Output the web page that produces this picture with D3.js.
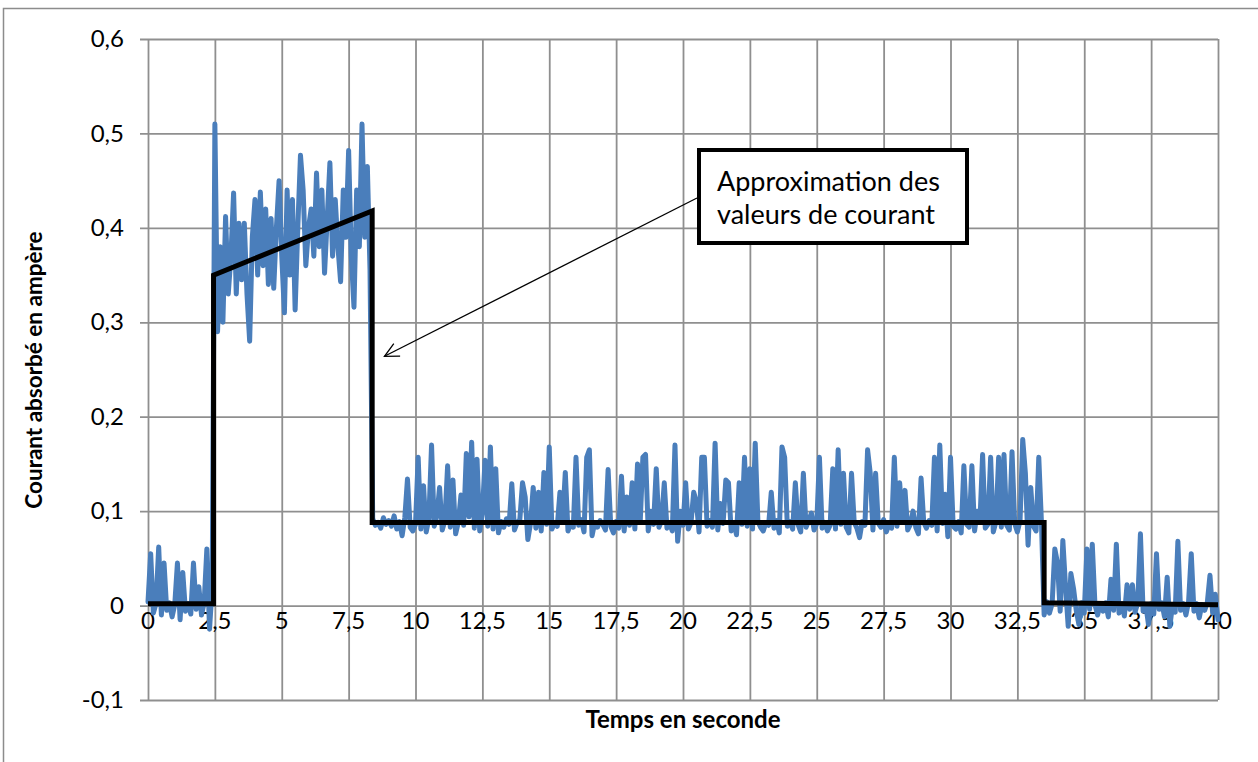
<!DOCTYPE html>
<html>
<head>
<meta charset="utf-8">
<script src="https://cdn.jsdelivr.net/npm/d3@7"></script>
<style>
  body { margin: 0; background: #fff; }
  text { font-family: Lato, "Noto Sans", sans-serif; }
</style>
</head>
<body>
<div id="chart"></div>
<script>

///////////////////////////////////////////////////////////////////////////
///////////////////////////////// Data ////////////////////////////////////
///////////////////////////////////////////////////////////////////////////

//Sampling step of the measured current (s)
var step = 0.1;

//Motor off, t = 0.0 .. 2.4 s
var idleStartT = 0;
var idleStart = [0.004, 0.055, -0.008, 0.002, 0.062, -0.010, 0.045, -0.005, 0.003, -0.012,
	0.001, 0.045, -0.015, 0.035, -0.006, 0.002, -0.009, 0.045, -0.004, 0.020,
	-0.010, 0.003, 0.060, -0.025, 0.020];

//Start-up, t = 2.5 .. 8.3 s
var startupT = 2.5;
var startup = [0.510, 0.290, 0.380, 0.300, 0.412, 0.330, 0.370, 0.437, 0.330, 0.405,
	0.345, 0.405, 0.330, 0.280, 0.390, 0.430, 0.350, 0.438, 0.360, 0.420,
	0.340, 0.410, 0.336, 0.400, 0.450, 0.370, 0.310, 0.440, 0.350, 0.430,
	0.313, 0.400, 0.477, 0.440, 0.360, 0.400, 0.420, 0.370, 0.458, 0.380,
	0.440, 0.352, 0.410, 0.469, 0.370, 0.430, 0.380, 0.343, 0.440, 0.390,
	0.482, 0.370, 0.316, 0.440, 0.380, 0.510, 0.390, 0.465, 0.355];

//Steady running, t = 8.4 .. 33.4 s
var runningT = 8.4;
var running = [0.092, 0.085, 0.088, 0.082, 0.093, 0.086,
	0.090, 0.084, 0.095, 0.081, 0.089, 0.074, 0.093, 0.134, 0.083, 0.079,
	0.086, 0.157, 0.081, 0.127, 0.078, 0.092, 0.170, 0.084, 0.095, 0.125,
	0.080, 0.090, 0.148, 0.083, 0.133, 0.076, 0.088, 0.117, 0.085, 0.161,
	0.094, 0.173, 0.082, 0.155, 0.079, 0.098, 0.154, 0.084, 0.168, 0.081,
	0.145, 0.077, 0.089, 0.083, 0.092, 0.086, 0.129, 0.080, 0.088, 0.091,
	0.130, 0.115, 0.070, 0.087, 0.125, 0.082, 0.120, 0.079, 0.141, 0.086,
	0.168, 0.081, 0.088, 0.084, 0.120, 0.090, 0.141, 0.079, 0.086, 0.083,
	0.157, 0.085, 0.091, 0.078, 0.157, 0.165, 0.074, 0.088, 0.083, 0.090,
	0.086, 0.080, 0.144, 0.084, 0.077, 0.089, 0.082, 0.137, 0.079, 0.115,
	0.085, 0.130, 0.081, 0.150, 0.088, 0.157, 0.160, 0.079, 0.100, 0.086,
	0.145, 0.083, 0.090, 0.130, 0.082, 0.087, 0.079, 0.170, 0.068, 0.100,
	0.085, 0.130, 0.081, 0.088, 0.120, 0.110, 0.078, 0.157, 0.157, 0.084,
	0.090, 0.083, 0.172, 0.080, 0.108, 0.087, 0.133, 0.130, 0.079, 0.088,
	0.075, 0.130, 0.086, 0.157, 0.084, 0.145, 0.081, 0.172, 0.089, 0.083,
	0.079, 0.088, 0.085, 0.120, 0.082, 0.090, 0.077, 0.168, 0.157, 0.084,
	0.089, 0.081, 0.130, 0.086, 0.078, 0.140, 0.083, 0.090, 0.098, 0.080,
	0.087, 0.157, 0.082, 0.088, 0.079, 0.085, 0.145, 0.081, 0.165, 0.086,
	0.140, 0.083, 0.077, 0.140, 0.088, 0.082, 0.072, 0.089, 0.085, 0.165,
	0.140, 0.080, 0.140, 0.087, 0.083, 0.091, 0.078, 0.086, 0.082, 0.157,
	0.084, 0.130, 0.089, 0.122, 0.080, 0.086, 0.100, 0.083, 0.076, 0.135,
	0.088, 0.082, 0.090, 0.085, 0.157, 0.079, 0.170, 0.087, 0.118, 0.073,
	0.157, 0.084, 0.081, 0.089, 0.077, 0.148, 0.086, 0.083, 0.148, 0.079,
	0.100, 0.088, 0.160, 0.082, 0.086, 0.157, 0.078, 0.089, 0.157, 0.083,
	0.160, 0.085, 0.080, 0.163, 0.087, 0.078, 0.090, 0.176, 0.140, 0.064,
	0.125, 0.084, 0.079, 0.157, 0.088];

//Motor off again, t = 33.5 .. 40.0 s
var idleEndT = 33.5;
var idleEnd = [-0.010, 0.004, -0.008, 0.002, 0.060, 0.045, -0.006, 0.069, 0.020, -0.022,
	0.034, 0.018, -0.005, -0.020, 0.003, -0.008, 0.060, -0.004, 0.065, 0.001,
	-0.010, 0.002, -0.006, 0.003, -0.012, 0.028, -0.005, 0.065, -0.008, 0.002,
	-0.011, 0.022, -0.004, 0.022, -0.007, 0.003, 0.076, -0.006, 0.001, -0.020,
	0.002, -0.009, 0.055, -0.004, 0.003, -0.012, 0.030, -0.022, 0.001, -0.007,
	0.068, -0.005, 0.002, -0.010, 0.004, 0.055, -0.006, 0.002, -0.013, 0.001,
	-0.005, 0.003, 0.032, -0.008, 0.012, -0.015];

//Approximation of the current (black line)
var approxT = [0, 2.45, 2.45, 8.38, 8.38, 33.5, 33.5, 40];
var approxI = [0.002, 0.002, 0.350, 0.418, 0.088, 0.088, 0.003, 0.001];

//Ticks
var xTicks = [0, 2.5, 5, 7.5, 10, 12.5, 15, 17.5, 20, 22.5, 25, 27.5, 30, 32.5, 35, 37.5, 40];
var yTicks = [-0.1, 0, 0.1, 0.2, 0.3, 0.4, 0.5, 0.6];

//Texts
var xTitle = "Temps en seconde";
var yTitle = "Courant absorbé en ampère";
var noteLines = ["Approximation des", "valeurs de courant"];

///////////////////////////////////////////////////////////////////////////
//////////////////////////// Scales and SVG ///////////////////////////////
///////////////////////////////////////////////////////////////////////////

var width = 1258,
	height = 762;

var plot = { left: 148, right: 1218, top: 39, bottom: 700 };

var x = d3.scaleLinear().domain([0, 40]).range([plot.left, plot.right]);
var y = d3.scaleLinear().domain([-0.1, 0.6]).range([plot.bottom, plot.top]);

//French number format: comma as decimal mark
var fr = d3.formatLocale({ decimal: ",", thousands: " ", grouping: [3], currency: ["", " €"], minus: "-" });
var fmt = function (v) { return fr.format("")(+v.toFixed(2)); };

var svg = d3.select("#chart").append("svg")
	.attr("width", width)
	.attr("height", height);

//Outer frame of the chart (runs out of the picture right and bottom)
svg.append("rect")
	.attr("x", 3.5)
	.attr("y", 8.5)
	.attr("width", 1400)
	.attr("height", 900)
	.attr("fill", "#fff")
	.attr("stroke", "#8c8c8c")
	.attr("stroke-width", 1.5);

///////////////////////////////////////////////////////////////////////////
/////////////////////////////// Axes / grid ///////////////////////////////
///////////////////////////////////////////////////////////////////////////

var gridColor = "#8f8f8f";

//Horizontal grid + left ticks
var yAxis = svg.append("g")
	.attr("transform", "translate(" + plot.left + ",0)")
	.call(d3.axisLeft(y)
		.tickValues(yTicks)
		.tickSize(-(plot.right - plot.left))
		.tickSizeOuter(0)
		.tickPadding(24)
		.tickFormat(fmt));

yAxis.select(".domain").remove();
yAxis.selectAll(".tick line")
	.attr("x1", -8)
	.attr("stroke", gridColor)
	.attr("stroke-width", 1.8);
yAxis.selectAll(".tick text")
	.attr("font-size", 24)
	.attr("font-family", "Lato, sans-serif")
	.attr("fill", "#000");

//Vertical grid
var xAxis = svg.append("g")
	.attr("transform", "translate(0," + plot.bottom + ")")
	.call(d3.axisBottom(x)
		.tickValues(xTicks)
		.tickSize(-(plot.bottom - plot.top))
		.tickSizeOuter(0)
		.tickFormat(""));

xAxis.select(".domain").remove();
xAxis.selectAll(".tick line")
	.attr("stroke", gridColor)
	.attr("stroke-width", 1.8);

//X labels sit just under the zero line
svg.append("g")
	.selectAll("text")
	.data(xTicks)
	.enter().append("text")
	.attr("x", function (d) { return x(d); })
	.attr("y", y(0) + 23)
	.attr("text-anchor", "middle")
	.attr("font-size", 24)
	.attr("fill", "#000")
	.text(fmt);

///////////////////////////////////////////////////////////////////////////
/////////////////////////////// Lines /////////////////////////////////////
///////////////////////////////////////////////////////////////////////////

//Put all the segments together as [t, i] pairs
var measured = [];
[[idleStartT, idleStart], [startupT, startup], [runningT, running], [idleEndT, idleEnd]]
	.forEach(function (seg) {
		seg[1].forEach(function (v, k) {
			measured.push([seg[0] + k * step, v]);
		});
	});

var line = d3.line()
	.x(function (d) { return x(d[0]); })
	.y(function (d) { return y(d[1]); });

svg.append("path")
	.datum(measured)
	.attr("d", line)
	.attr("fill", "none")
	.attr("stroke", "#4a7ebb")
	.attr("stroke-width", 5)
	.attr("stroke-linejoin", "round")
	.attr("stroke-linecap", "round");

svg.append("path")
	.datum(d3.zip(approxT, approxI))
	.attr("d", line)
	.attr("fill", "none")
	.attr("stroke", "#000")
	.attr("stroke-width", 5)
	.attr("stroke-linejoin", "miter");

///////////////////////////////////////////////////////////////////////////
//////////////////////////// Axis titles //////////////////////////////////
///////////////////////////////////////////////////////////////////////////

svg.append("text")
	.attr("x", 683)
	.attr("y", 728)
	.attr("text-anchor", "middle")
	.attr("font-size", 24)
	.attr("font-weight", "bold")
	.text(xTitle);

svg.append("text")
	.attr("transform", "translate(42,370) rotate(-90)")
	.attr("text-anchor", "middle")
	.attr("font-size", 22.5)
	.attr("font-weight", "bold")
	.text(yTitle);

///////////////////////////////////////////////////////////////////////////
//////////////////////////// Annotation ///////////////////////////////////
///////////////////////////////////////////////////////////////////////////

svg.append("defs").append("marker")
	.attr("id", "arrow")
	.attr("markerUnits", "userSpaceOnUse")
	.attr("markerWidth", 20)
	.attr("markerHeight", 20)
	.attr("refX", 15)
	.attr("refY", 8)
	.attr("orient", "auto")
	.append("path")
	.attr("d", "M1,1 L15,8 L1,15")
	.attr("fill", "none")
	.attr("stroke", "#000")
	.attr("stroke-width", 1.3);

svg.append("line")
	.attr("x1", 697)
	.attr("y1", 198)
	.attr("x2", x(8.84))
	.attr("y2", y(0.264))
	.attr("stroke", "#000")
	.attr("stroke-width", 1.3)
	.attr("marker-end", "url(#arrow)");

var note = svg.append("g");

note.append("rect")
	.attr("x", 699)
	.attr("y", 150)
	.attr("width", 268)
	.attr("height", 93)
	.attr("fill", "#fff")
	.attr("stroke", "#000")
	.attr("stroke-width", 4);

note.selectAll("text")
	.data(noteLines)
	.enter().append("text")
	.attr("x", 717)
	.attr("y", function (d, i) { return 191 + i * 33; })
	.attr("font-size", 27)
	.attr("fill", "#000")
	.text(function (d) { return d; });

</script>
</body>
</html>
